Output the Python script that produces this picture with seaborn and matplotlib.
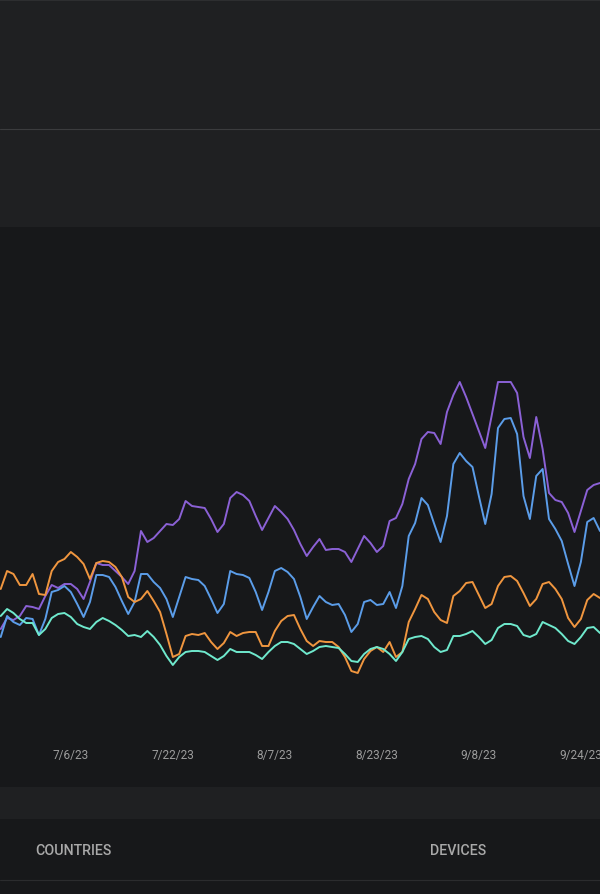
import matplotlib
matplotlib.use('Agg')
import matplotlib.pyplot as plt
import seaborn as sns
import pandas as pd
from matplotlib.patches import Rectangle
from matplotlib.lines import Line2D

# ---------------- data ----------------
start_date = '2023-06-25'
n_days = 95
series_names = ['Series 1', 'Series 2', 'Series 3', 'Series 4']

series_1 = [170, 181, 179, 183, 193, 192, 190, 203, 214, 211,
            215, 215, 210, 200, 217, 236, 234, 234, 228, 222,
            215, 228, 268, 257, 261, 268, 275, 274, 280, 298,
            293, 292, 291, 280, 267, 275, 301, 307, 304, 298,
            283, 269, 281, 293, 287, 280, 269, 255, 243, 252,
            260, 249, 250, 250, 247, 237, 250, 263, 256, 247,
            253, 278, 281, 295, 320, 335, 360, 367, 366, 355,
            387, 404, 417, 402, 385, 368, 351, 383, 417, 417,
            417, 406, 362, 341, 382, 350, 306, 299, 297, 286,
            267, 288, 309, 314, 316]

series_2 = [162, 183, 177, 174, 181, 180, 164, 180, 207, 209,
            213, 207, 195, 182, 197, 224, 224, 222, 212, 198,
            185, 197, 225, 225, 217, 211, 200, 182, 202, 222,
            220, 219, 213, 200, 186, 195, 228, 225, 224, 221,
            207, 189, 207, 228, 231, 227, 220, 202, 180, 192,
            203, 197, 194, 195, 184, 167, 175, 197, 199, 194,
            195, 207, 191, 213, 263, 276, 301, 294, 275, 257,
            283, 335, 346, 338, 332, 303, 275, 305, 371, 380,
            381, 365, 303, 280, 323, 330, 280, 270, 258, 235,
            213, 237, 277, 281, 268]

series_3 = [210, 228, 225, 214, 214, 225, 205, 204, 228, 237,
            240, 247, 242, 235, 220, 236, 238, 237, 232, 222,
            202, 197, 200, 208, 198, 187, 165, 142, 145, 163,
            165, 164, 166, 157, 150, 156, 167, 163, 166, 167,
            167, 153, 153, 168, 178, 183, 184, 170, 158, 153,
            158, 157, 157, 152, 142, 128, 126, 140, 148, 152,
            147, 157, 142, 147, 177, 190, 204, 200, 187, 179,
            176, 203, 208, 216, 217, 204, 191, 195, 213, 222,
            223, 218, 206, 193, 200, 215, 217, 210, 200, 181,
            172, 180, 199, 205, 201]

series_4 = [183, 190, 186, 180, 176, 176, 164, 170, 181, 185,
            186, 182, 175, 172, 170, 177, 181, 178, 174, 169,
            163, 164, 162, 168, 162, 154, 143, 134, 142, 147,
            148, 148, 147, 143, 139, 143, 150, 147, 147, 147,
            144, 140, 147, 153, 157, 157, 155, 150, 145, 148,
            152, 153, 152, 151, 145, 138, 137, 145, 150, 152,
            150, 145, 138, 147, 160, 162, 163, 160, 152, 147,
            149, 163, 163, 165, 168, 162, 155, 159, 171, 175,
            175, 173, 164, 162, 165, 177, 174, 171, 165, 158,
            155, 162, 171, 172, 166]

tick_dates = ['2023-07-06', '2023-07-22', '2023-08-07',
              '2023-08-23', '2023-09-08', '2023-09-24']
tick_labels = ['7/6/23', '7/22/23', '8/7/23', '8/23/23', '9/8/23', '9/24/23']
section_titles = ['COUNTRIES', 'DEVICES']

# ---------------- styling ----------------
sns.set_theme(style='dark')
plt.rcParams['font.family'] = ['Roboto', 'DejaVu Sans']

colors = ['#8b61d6', '#5b9de9', '#f0963f', '#6fe9cd']
bg_dark = '#17181a'
bg_light = '#1f2022'

W, H = 600, 895
fig = plt.figure(figsize=(W / 100, H / 100), dpi=100)
fig.patch.set_facecolor(bg_dark)

def fy(ypix):
    return (H - ypix) / H

# background bands
fig.patches.append(Rectangle((0, fy(228)), 1, 1 - fy(228), transform=fig.transFigure,
                             facecolor=bg_light, edgecolor='none', zorder=-10))
fig.patches.append(Rectangle((0, fy(820)), 1, fy(788) - fy(820), transform=fig.transFigure,
                             facecolor=bg_light, edgecolor='none', zorder=-10))
fig.lines.append(Line2D([0, 1], [fy(1), fy(1)], transform=fig.transFigure,
                        color='#2d2e30', lw=1.5))
fig.lines.append(Line2D([0, 1], [fy(129.5), fy(129.5)], transform=fig.transFigure,
                        color='#3b3c3e', lw=0.8))
fig.lines.append(Line2D([0, 1], [fy(881), fy(881)], transform=fig.transFigure,
                        color='#2b2c2e', lw=0.8))

# ---------------- chart ----------------
dates = pd.date_range(start_date, periods=n_days, freq='D')
df = pd.concat([
    pd.DataFrame({'date': dates, 'value': vals, 'series': name})
    for name, vals in zip(series_names, [series_1, series_2, series_3, series_4])
], ignore_index=True)

ax = fig.add_axes([0, fy(745), 1, fy(228) - fy(745)])
ax.set_facecolor(bg_dark)
sns.lineplot(data=df, x='date', y='value', hue='series', hue_order=series_names,
             palette=colors, linewidth=1.4, legend=False, ax=ax)

t0 = pd.Timestamp(start_date)
ax.set_xlim(t0 - pd.Timedelta(days=0.11), t0 + pd.Timedelta(days=94.0))
ax.set_ylim(55, 572)
ax.set_xticks(pd.to_datetime(tick_dates))
ax.set_xticklabels(tick_labels)
ax.set_yticks([])
ax.set_xlabel('')
ax.set_ylabel('')
ax.grid(False)
for s in ax.spines.values():
    s.set_visible(False)
ax.tick_params(axis='x', length=0, pad=3.0, labelsize=8.5, labelcolor='#9c9c9c')

for title, xpix in zip(section_titles, [35, 430]):
    fig.text(xpix / W, fy(851), title, ha='left', va='center', fontsize=10.3,
             color='#a9a9a9', fontweight='medium')

fig.savefig('out.png', dpi=100, facecolor=fig.get_facecolor())
